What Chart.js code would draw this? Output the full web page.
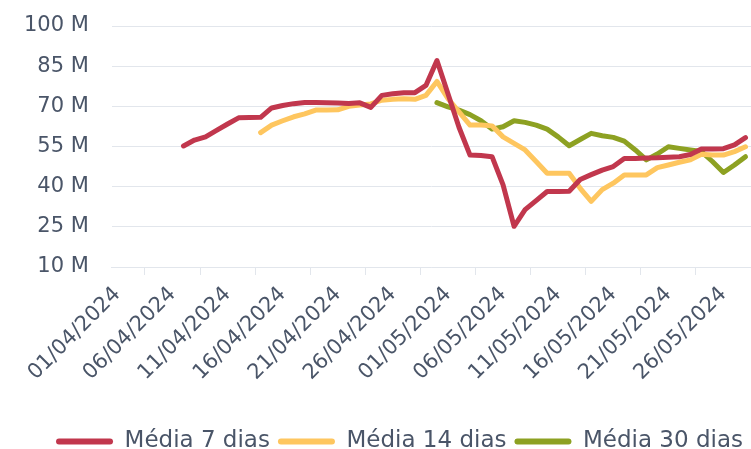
<!DOCTYPE html>
<html>
<head>
<meta charset="utf-8">
<script src="https://cdn.jsdelivr.net/npm/chart.js@4.4.1/dist/chart.umd.min.js"></script>
<style>
  html, body { margin: 0; padding: 0; background: #fff; }
  #wrap { width: 751px; height: 449px; }
</style>
</head>
<body>
<div id="wrap"><canvas id="myChart"></canvas></div>
<script>
const dates = [
  "01/04/2024", "02/04/2024", "03/04/2024", "04/04/2024", "05/04/2024", "06/04/2024",
  "07/04/2024", "08/04/2024", "09/04/2024", "10/04/2024", "11/04/2024", "12/04/2024",
  "13/04/2024", "14/04/2024", "15/04/2024", "16/04/2024", "17/04/2024", "18/04/2024",
  "19/04/2024", "20/04/2024", "21/04/2024", "22/04/2024", "23/04/2024", "24/04/2024",
  "25/04/2024", "26/04/2024", "27/04/2024", "28/04/2024", "29/04/2024", "30/04/2024",
  "01/05/2024", "02/05/2024", "03/05/2024", "04/05/2024", "05/05/2024", "06/05/2024",
  "07/05/2024", "08/05/2024", "09/05/2024", "10/05/2024", "11/05/2024", "12/05/2024",
  "13/05/2024", "14/05/2024", "15/05/2024", "16/05/2024", "17/05/2024", "18/05/2024",
  "19/05/2024", "20/05/2024", "21/05/2024", "22/05/2024", "23/05/2024", "24/05/2024",
  "25/05/2024", "26/05/2024", "27/05/2024", "28/05/2024",
];

// values in millions
const media7 = [
  null, null, null, null, null, null,
  55.2, 57.4, 58.6, 61.0, 63.4, 65.7,
  65.8, 65.9, 69.4, 70.3, 71.0, 71.4,
  71.4, 71.3, 71.2, 71.1, 71.3, 69.6,
  74.1, 74.7, 75.1, 75.1, 77.8, 87.1,
  74.7, 62.2, 51.8, 51.6, 51.2, 40.7,
  25.2, 31.4, 34.8, 38.2, 38.2, 38.3,
  42.7, 44.5, 46.2, 47.5, 50.5, 50.5,
  50.7, 50.8, 51.0, 51.2, 52.0, 54.1,
  54.1, 54.2, 55.6, 58.3,
];

const media14 = [
  null, null, null, null, null, null,
  null, null, null, null, null, null,
  null, 60.2, 63.0, 64.6, 66.1, 67.2,
  68.6, 68.6, 68.7, 70.0, 70.5, 70.9,
  72.3, 72.6, 72.8, 72.6, 74.1, 79.3,
  72.9, 67.9, 63.0, 63.0, 62.7, 58.6,
  56.2, 53.7, 49.4, 45.0, 45.0, 45.0,
  39.4, 34.5, 38.9, 41.3, 44.4, 44.4,
  44.4, 47.1, 48.1, 49.1, 50.0, 52.1,
  51.8, 51.8, 53.1, 54.9,
];

const media30 = [
  null, null, null, null, null, null,
  null, null, null, null, null, null,
  null, null, null, null, null, null,
  null, null, null, null, null, null,
  null, null, null, null, null, 71.4,
  69.8, 68.6, 66.9, 64.6, 61.5, 62.4,
  64.6, 64.0, 63.0, 61.5, 58.6, 55.3,
  57.6, 59.9, 59.0, 58.4, 57.0, 53.7,
  50.0, 52.2, 54.9, 54.3, 53.7, 53.1,
  49.4, 45.3, 48.1, 51.2,
];

const yTicks = [10, 25, 40, 55, 70, 85, 100];

const textColor = "#4a5568";
const gridColor = "#e2e6ec";
const tickFont = { family: "DejaVu Sans", size: 21 };
const legendFont = { family: "DejaVu Sans", size: 23 };

const line = (label, data, color) => ({
  label: label,
  data: data,
  borderColor: color,
  backgroundColor: color,
  borderWidth: 5,
  pointRadius: 0,
  tension: 0,
  borderCapStyle: "round",
  borderJoinStyle: "round",
});

let ctx = document.getElementById("myChart").getContext("2d");

window.myChart = new Chart(ctx, {
  type: "line",
  data: {
    labels: dates,
    datasets: [
      line("Média 7 dias", media7, "#c1374d"),
      line("Média 14 dias", media14, "#fec65f"),
      line("Média 30 dias", media30, "#8da122"),
    ],
  },
  options: {
    responsive: true,
    maintainAspectRatio: false,
    animation: false,
    layout: {
      padding: { left: 1, top: 26, right: 0, bottom: -14 },
    },
    scales: {
      x: {
        offset: true,
        grid: {
          offset: true,
          drawOnChartArea: false,
          color: gridColor,
          tickLength: 8,
        },
        border: { color: gridColor },
        ticks: {
          autoSkip: false,
          minRotation: 45,
          maxRotation: 45,
          padding: 7,
          color: textColor,
          font: tickFont,
          callback: (val, i) => (i % 5 === 0 ? dates[i] : null),
        },
        afterFit: (axis) => {
          axis.paddingLeft = 0;
          axis.paddingRight = 0;
          axis.height = 155;
        },
      },
      y: {
        min: 10,
        max: 100,
        afterBuildTicks: (axis) => {
          axis.ticks = yTicks.map((v) => ({ value: v }));
        },
        afterFit: (axis) => {
          axis.paddingTop = 0;
          axis.paddingBottom = 0;
        },
        grid: {
          color: gridColor,
          drawTicks: false,
        },
        border: { display: false },
        ticks: {
          padding: 23,
          color: textColor,
          font: tickFont,
          callback: (v) => v + " M",
        },
      },
    },
    plugins: {
      legend: {
        position: "bottom",
        align: "end",
        labels: {
          color: textColor,
          font: legendFont,
          boxWidth: 57,
          boxHeight: 6,
          padding: 8,
          useBorderRadius: true,
          borderRadius: 3,
          generateLabels: (chart) =>
            Chart.defaults.plugins.legend.labels
              .generateLabels(chart)
              .map((item) => ({ ...item, lineWidth: 0 })),
        },
      },
      tooltip: { enabled: false },
    },
  },
});
</script>
</body>
</html>
